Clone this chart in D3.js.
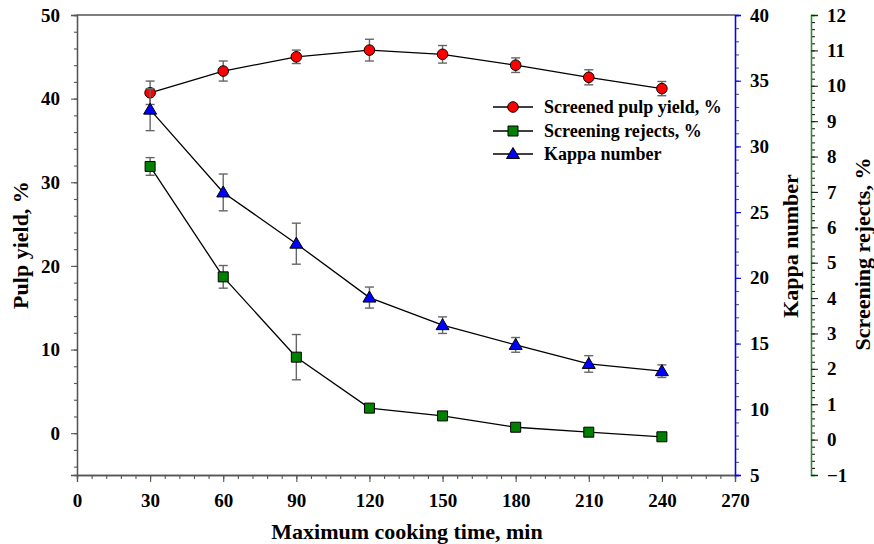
<!DOCTYPE html>
<html>
<head>
<meta charset="utf-8">
<script src="https://cdn.jsdelivr.net/npm/d3@7"></script>
<style>
body{margin:0;background:#fff;}
text{font-family:"Liberation Serif","Times New Roman",serif;font-weight:bold;}
</style>
</head>
<body>
<script>
//chart data
var times=[30,60,90,120,150,180,210,240];
var pulpYield=[40.7,43.3,45.0,45.8,45.3,44.0,42.55,41.2];
var pulpErr=[1.4,1.2,0.8,1.3,1.05,0.87,0.9,0.85];
var rejects=[7.72,4.60,2.33,0.89,0.67,0.35,0.21,0.08];
var rejectsErr=[0.25,0.32,0.64,0.1,0.08,0.08,0.06,0.06];
var kappa=[32.8,26.5,22.6,18.5,16.4,14.9,13.45,12.9];
var kappaErr=[1.6,1.4,1.56,0.8,0.63,0.56,0.63,0.48];

var xTicks=[0,30,60,90,120,150,180,210,240,270];
var yieldTicks=[0,10,20,30,40,50];
var kappaTicks=[5,10,15,20,25,30,35,40];
var rejectsTicks=[-1,0,1,2,3,4,5,6,7,8,9,10,11,12];
var legendNames=["Screened pulp yield, %","Screening rejects, %","Kappa number"];

window.onload=drawChart();

function drawChart(){
	var width=874,
		height=544;

	var svg=d3.select("body")
		.append("svg")
		.attr("width",width)
		.attr("height",height);

	//scales, one per vertical axis
	var x=d3.scaleLinear().domain([0,270]).range([77,735]);
	var yYield=d3.scaleLinear().domain([-5,50]).range([475,15]);
	var yKappa=d3.scaleLinear().domain([5,40]).range([475,15]);
	var yRej=d3.scaleLinear().domain([-1,12]).range([475,15]);

	//top frame line
	svg.append("line")
		.attr("x1",x(0)).attr("x2",x(270))
		.attr("y1",15).attr("y2",15)
		.attr("stroke","#000").attr("stroke-width",1.2);

	//bottom axis, minor ticks every 6
	svg.append("g")
		.attr("transform","translate(0,475)")
		.call(d3.axisBottom(x).tickValues(d3.range(0,271,6)).tickSize(4).tickFormat(""))
		.call(styleAxis,"#555","#555");
	var xAxis=svg.append("g")
		.attr("transform","translate(0,475)")
		.call(d3.axisBottom(x).tickValues(xTicks).tickSize(7).tickPadding(12))
		.call(styleAxis,"#555","#555");
	xAxis.selectAll("text").attr("font-size",19);

	//left axis, minor ticks every 2
	svg.append("g")
		.attr("transform","translate(77,0)")
		.call(d3.axisLeft(yYield).tickValues(d3.range(-4,51,2)).tickSize(3).tickFormat(""))
		.call(styleAxis,"#555","#555");
	var yAxis=svg.append("g")
		.attr("transform","translate(77,0)")
		.call(d3.axisLeft(yYield).tickValues(yieldTicks).tickSize(6).tickPadding(11))
		.call(styleAxis,"#555","#555");
	yAxis.selectAll("text").attr("font-size",19);

	//kappa axis (blue)
	svg.append("g")
		.attr("transform","translate(735,0)")
		.call(d3.axisRight(yKappa).tickValues(d3.range(5,41,1)).tickSize(4).tickFormat(""))
		.call(styleAxis,"blue","#555");
	var kAxis=svg.append("g")
		.attr("transform","translate(735,0)")
		.call(d3.axisRight(yKappa).tickValues(kappaTicks).tickSize(6).tickPadding(9))
		.call(styleAxis,"blue","blue");
	kAxis.selectAll("text").attr("font-size",19);

	//screening rejects axis (green)
	svg.append("g")
		.attr("transform","translate(811,0)")
		.call(d3.axisRight(yRej).tickValues(d3.range(-5,61,1).map(function(d){return d/5;})).tickSize(4).tickFormat(""))
		.call(styleAxis,"#2e8b2e","#222");
	var rAxis=svg.append("g")
		.attr("transform","translate(811,0)")
		.call(d3.axisRight(yRej).tickValues(rejectsTicks).tickSize(7).tickPadding(9))
		.call(styleAxis,"#2e8b2e","#222");
	rAxis.selectAll("text").attr("font-size",19);

	//axis titles
	svg.append("text")
		.attr("x",407).attr("y",539)
		.attr("text-anchor","middle")
		.attr("font-size",22)
		.text("Maximum cooking time, min");
	svg.append("text")
		.attr("transform","translate(28,245) rotate(-90)")
		.attr("text-anchor","middle")
		.attr("font-size",22)
		.text("Pulp yield, %");
	svg.append("text")
		.attr("transform","translate(798,246) rotate(-90)")
		.attr("text-anchor","middle")
		.attr("font-size",22)
		.text("Kappa number");
	svg.append("text")
		.attr("transform","translate(870,254) rotate(-90)")
		.attr("text-anchor","middle")
		.attr("font-size",22)
		.text("Screening rejects, %");

	//series, drawn in order so later error bars sit on earlier markers
	drawSeries(pulpYield,pulpErr,yYield,"circle","red");
	drawSeries(rejects,rejectsErr,yRej,"square","green");
	drawSeries(kappa,kappaErr,yKappa,"triangle","blue");

	//legend
	var shapes=["circle","square","triangle"],
		colors=["red","green","blue"],
		rowY=[107,131,154];
	legendNames.forEach(function(name,i){
		var g=svg.append("g").attr("transform","translate(493,"+rowY[i]+")");
		g.append("line")
			.attr("x1",0).attr("x2",40)
			.attr("stroke","#000").attr("stroke-width",1.3);
		g.append("path")
			.attr("transform","translate(20,0)")
			.attr("d",markerPath(shapes[i]))
			.attr("fill",colors[i])
			.attr("stroke","#000").attr("stroke-width",1);
		g.append("text")
			.attr("x",51).attr("y",6)
			.attr("font-size",18)
			.text(name);
	});

	function drawSeries(values,errs,yScale,shape,color){
		var pts=times.map(function(t,i){return {t:t,v:values[i],e:errs[i]};});

		var line=d3.line()
			.x(function(d){return x(d.t);})
			.y(function(d){return yScale(d.v);});

		svg.append("path")
			.datum(pts)
			.attr("d",line)
			.attr("fill","none")
			.attr("stroke","#000")
			.attr("stroke-width",1.3);

		var err=svg.append("g")
			.selectAll("g")
			.data(pts)
			.enter()
			.append("g")
			.attr("stroke","#666")
			.attr("stroke-width",1.4);
		err.append("line")
			.attr("x1",function(d){return x(d.t);})
			.attr("x2",function(d){return x(d.t);})
			.attr("y1",function(d){return yScale(d.v+d.e);})
			.attr("y2",function(d){return yScale(d.v-d.e);});
		err.append("line")
			.attr("x1",function(d){return x(d.t)-4.5;})
			.attr("x2",function(d){return x(d.t)+4.5;})
			.attr("y1",function(d){return yScale(d.v+d.e);})
			.attr("y2",function(d){return yScale(d.v+d.e);});
		err.append("line")
			.attr("x1",function(d){return x(d.t)-4.5;})
			.attr("x2",function(d){return x(d.t)+4.5;})
			.attr("y1",function(d){return yScale(d.v-d.e);})
			.attr("y2",function(d){return yScale(d.v-d.e);});

		svg.append("g")
			.selectAll("path")
			.data(pts)
			.enter()
			.append("path")
			.attr("transform",function(d){return "translate("+x(d.t)+","+yScale(d.v)+")";})
			.attr("d",markerPath(shape))
			.attr("fill",color)
			.attr("stroke","#000")
			.attr("stroke-width",1);
	}
}

function markerPath(shape){
	if(shape=="circle") return d3.symbol().type(d3.symbolCircle).size(Math.PI*5.3*5.3)();
	if(shape=="square") return "M-5,-5H5V5H-5Z";
	return "M0,-6.5L6.5,4.5L-6.5,4.5Z";
}

function styleAxis(g,lineColor,tickColor){
	g.select(".domain").attr("stroke",lineColor).attr("stroke-width",1.3);
	g.selectAll(".tick line").attr("stroke",tickColor).attr("stroke-width",1.1);
	g.selectAll(".tick text").attr("fill","#000").attr("font-family","'Liberation Serif','Times New Roman',serif").attr("font-weight","bold");
}
</script>
</body>
</html>
